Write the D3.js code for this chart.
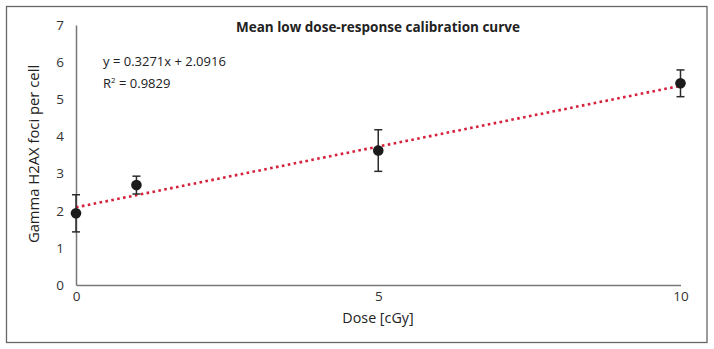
<!DOCTYPE html>
<html><head><meta charset="utf-8">
<script src="https://cdn.jsdelivr.net/npm/d3@7"></script>
<style>
body{margin:0;background:#fff;}
text{font-family:"Open Sans","Noto Sans",sans-serif;}
</style></head>
<body><svg id="c" width="714" height="349"></svg>
<script>
const doses = [0, 1, 5, 10];
const means = [1.93, 2.69, 3.62, 5.43];
const errs  = [0.50, 0.24, 0.56, 0.36];
const yTicks = [0,1,2,3,4,5,6,7];
const xTicks = [0,5,10];
const slope = 0.3271, intercept = 2.0916;
const title = "Mean low dose-response calibration curve";
const eqText = "y = 0.3271x + 2.0916";
const r2Value = "0.9829";
const xLabel = "Dose [cGy]";
const yLabel = "Gamma H2AX foci per cell";

const svg = d3.select("#c");
svg.append("rect").attr("x",6.5).attr("y",6.5).attr("width",700.5).attr("height",336).attr("fill","#fff").attr("stroke","#666").attr("stroke-width",1.3);

const x = d3.scaleLinear().domain([0,10]).range([76,680.5]);
const y = d3.scaleLinear().domain([0,7]).range([285,25]);

// axes
const yAx = svg.append("g").attr("transform","translate(76,0)")
  .call(d3.axisLeft(y).tickValues(yTicks).tickFormat(d3.format("d")).tickSize(0).tickPadding(12));
yAx.select(".domain").attr("stroke","#777").attr("stroke-width",1.5);
yAx.selectAll("text").attr("font-size",13.5).attr("fill","#333");
const xAx = svg.append("g").attr("transform","translate(0,285)")
  .call(d3.axisBottom(x).tickValues(xTicks).tickFormat(d3.format("d")).tickSize(0).tickPadding(6));
xAx.select(".domain").attr("stroke","#777").attr("stroke-width",1.5);
xAx.selectAll("text").attr("font-size",13.5).attr("fill","#333");

// trendline
svg.append("line")
  .attr("x1",x(0)).attr("y1",y(intercept))
  .attr("x2",x(10)).attr("y2",y(slope*10+intercept))
  .attr("stroke","#d6203c").attr("stroke-width",2.6).attr("stroke-dasharray","2.6 3.4");

// error bars
const eb = svg.append("g").attr("stroke","#2b2b2b").attr("stroke-width",1.5);
doses.forEach((d,i)=>{
  const cx = x(d);
  eb.append("line").attr("x1",cx).attr("x2",cx).attr("y1",y(means[i]+errs[i])).attr("y2",y(means[i]-errs[i]));
  [means[i]+errs[i], means[i]-errs[i]].forEach(v=>{
    eb.append("line").attr("x1",cx-4).attr("x2",cx+4).attr("y1",y(v)).attr("y2",y(v));
  });
});
svg.append("g").selectAll("circle").data(doses).join("circle")
  .attr("cx",d=>x(d)).attr("cy",(d,i)=>y(means[i])).attr("r",5.3).attr("fill","#1c1c1c");

// title
svg.append("text").attr("x",378).attr("y",32).attr("text-anchor","middle")
  .attr("font-size",13.5).attr("font-weight","bold").attr("fill","#222").text(title);

// equation
svg.append("text").attr("x",103).attr("y",66).attr("font-size",13).attr("fill","#222").text(eqText);
const r2 = svg.append("text").attr("x",103).attr("y",88).attr("font-size",13).attr("fill","#222");
r2.append("tspan").text("R");
r2.append("tspan").attr("dy",-5).attr("font-size",8).text("2");
r2.append("tspan").attr("dy",5).text(" = " + r2Value);

// axis labels
svg.append("text").attr("x",378).attr("y",323).attr("text-anchor","middle")
  .attr("font-size",14.3).attr("fill","#222").text(xLabel);
svg.append("text").attr("transform","translate(39,154) rotate(-90)").attr("text-anchor","middle")
  .attr("font-size",14.8).attr("fill","#222").text(yLabel);
</script></body></html>
